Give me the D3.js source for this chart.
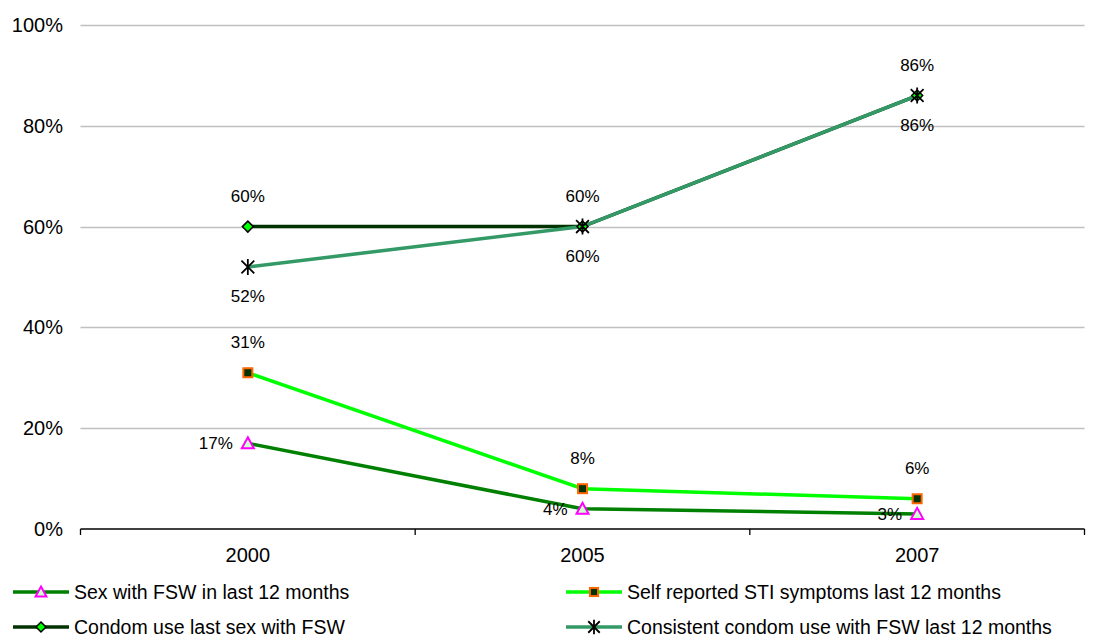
<!DOCTYPE html>
<html><head><meta charset="utf-8">
<script src="https://cdn.jsdelivr.net/npm/d3@7"></script>
<style>body{margin:0;background:#fff}svg{font-family:"Liberation Sans",Arial,sans-serif}</style>
</head><body><svg id="c" width="1101" height="640"></svg>
<script>
const years = ["2000","2005","2007"];
const yTicks = [0,20,40,60,80,100];
const sexFSW = [17,4,3];
const stiSymptoms = [31,8,6];
const condomLast = [60,60,86];
const condomConsistent = [52,60,86];
const seriesNames = ["Sex with FSW in last 12 months","Self reported STI symptoms last 12 months","Condom use last sex with FSW","Consistent condom use with FSW last 12 months"];

const series = [
  {name:seriesNames[0], values:sexFSW, color:"#008000", marker:"tri", labelPos:"left"},
  {name:seriesNames[1], values:stiSymptoms, color:"#00ff00", marker:"sq", labelPos:"above"},
  {name:seriesNames[2], values:condomLast, color:"#003300", marker:"dia", labelPos:"above"},
  {name:seriesNames[3], values:condomConsistent, color:"#339966", marker:"star", labelPos:"below"}
];
const drawOrder = [0,1,2,3];

const svg = d3.select("#c");
const L=80.5, R=1084.5, T=25, B=529;
const x = d3.scaleBand().domain(years).range([L,R]);
const y = d3.scaleLinear().domain([0,100]).range([B,T]);

// gridlines
svg.append("g").selectAll("line").data(yTicks.filter(d=>d>0)).join("line")
  .attr("x1",L).attr("x2",R).attr("y1",d=>Math.round(y(d))+0.5).attr("y2",d=>Math.round(y(d))+0.5)
  .attr("stroke","#c0c0c0").attr("stroke-width",1.3);

// y labels
svg.append("g").selectAll("text").data(yTicks).join("text")
  .attr("x",63).attr("y",d=>y(d)).attr("dy","0.35em").attr("text-anchor","end")
  .attr("font-size",20).attr("fill","#000").text(d=>d+"%");

// x axis
const xa = svg.append("g").attr("transform",`translate(0,${B})`)
  .call(d3.axisBottom(x).tickSize(0).tickPadding(19));
xa.select(".domain").attr("stroke","#000").attr("stroke-width",1.3).attr("d",`M${L},0H${R}`);
xa.selectAll("text").attr("font-size",20).attr("font-family","Liberation Sans, Arial, sans-serif").attr("fill","#000");
const bounds = years.map(d=>x(d)).concat([R]);
xa.selectAll("line.sep").data(bounds).join("line").attr("class","sep")
  .attr("x1",d=>d).attr("x2",d=>d).attr("y1",0).attr("y2",6).attr("stroke","#000").attr("stroke-width",1.3);

const cx = d=>x(d)+x.bandwidth()/2;

function drawMarker(g, type, px, py, size){
  const s=size||1;
  if(type==="tri"){
    g.append("path").attr("d",`M${px},${py-6*s}L${px+6*s},${py+5*s}L${px-6*s},${py+5*s}Z`)
      .attr("fill","#ccffcc").attr("stroke","#ff00ff").attr("stroke-width",2);
  } else if(type==="sq"){
    g.append("rect").attr("x",px-4.5*s).attr("y",py-4.5*s).attr("width",9*s).attr("height",9*s)
      .attr("fill","#003300").attr("stroke","#ff6600").attr("stroke-width",2);
  } else if(type==="dia"){
    g.append("path").attr("d",`M${px},${py-5.5*s}L${px+5.5*s},${py}L${px},${py+5.5*s}L${px-5.5*s},${py}Z`)
      .attr("fill","#00ff00").attr("stroke","#000").attr("stroke-width",1.5);
  } else if(type==="star"){
    const r=8*s;
    g.append("path").attr("d",`M${px-r*0.8},${py-r*0.8}L${px+r*0.8},${py+r*0.8}M${px+r*0.8},${py-r*0.8}L${px-r*0.8},${py+r*0.8}M${px},${py-r}L${px},${py+r}`)
      .attr("stroke","#000").attr("stroke-width",1.8).attr("fill","none");
  }
}

const line = d3.line().x((d,i)=>cx(years[i])).y(d=>y(d));
drawOrder.forEach(si=>{
  const s=series[si];
  svg.append("path").datum(s.values).attr("d",line).attr("fill","none")
    .attr("stroke",s.color).attr("stroke-width",3.5);
});
drawOrder.forEach(si=>{
  const s=series[si];
  const g=svg.append("g");
  s.values.forEach((v,i)=>drawMarker(g,s.marker,cx(years[i]),y(v)));
});
// labels
series.forEach(s=>{
  s.values.forEach((v,i)=>{
    let px=cx(years[i]), py=y(v), anchor="middle";
    if(s.labelPos==="above") py-=31;
    else if(s.labelPos==="below") py+=29;
    else { px-=15; anchor="end"; }
    svg.append("text").attr("x",px).attr("y",py).attr("dy","0.35em").attr("text-anchor",anchor)
      .attr("font-size",17).attr("fill","#000").text(v+"%");
  });
});

// legend
const legPos = [[13,592],[566,592],[13,627],[566,627]];
series.forEach((s,i)=>{
  const [lx,ly]=legPos[i];
  const g=svg.append("g");
  g.append("line").attr("x1",lx).attr("x2",lx+56).attr("y1",ly).attr("y2",ly).attr("stroke",s.color).attr("stroke-width",3.5);
  drawMarker(g,s.marker,lx+28,ly,0.9);
  g.append("text").attr("x",lx+61).attr("y",ly).attr("dy","0.35em").attr("font-size",19.5).attr("fill","#000").text(s.name);
});
</script></body></html>
